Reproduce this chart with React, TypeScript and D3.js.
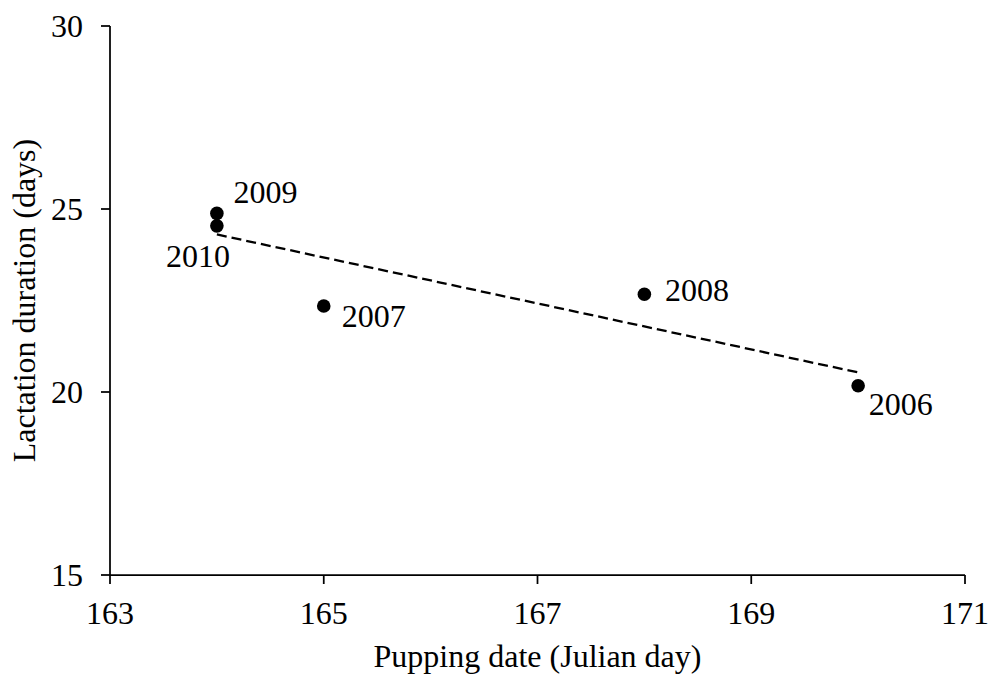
import React from "react";
import * as d3 from "d3";

// Pupping date (Julian day) vs. lactation duration (days), one point per year
const years = ["2006", "2007", "2008", "2009", "2010"];
const puppingDay = [170, 165, 168, 164, 164];
const lactationDays = [20.17, 22.35, 22.67, 24.88, 24.54];

const xTicks = [163, 165, 167, 169, 171];
const yTicks = [15, 20, 25, 30];

// Where each year label sits relative to its point
const labelOffsets: Record<string, { dx: number; dy: number; anchor: string }> = {
  "2006": { dx: 10.5, dy: 29, anchor: "start" },
  "2007": { dx: 18, dy: 21, anchor: "start" },
  "2008": { dx: 20.5, dy: 6.5, anchor: "start" },
  "2009": { dx: 16.5, dy: -10, anchor: "start" },
  "2010": { dx: 13, dy: 41, anchor: "end" },
};

const W = 994;
const H = 677;
const FONT = "'Liberation Serif', 'Times New Roman', serif";
const FS = 32;

export default function App() {
  const x = d3.scaleLinear().domain([163, 171]).range([110, 965]);
  const y = d3.scaleLinear().domain([15, 30]).range([575, 26]);

  // Least-squares trend line over the plotted points
  const n = puppingDay.length;
  const mx = d3.mean(puppingDay) as number;
  const my = d3.mean(lactationDays) as number;
  let sxy = 0;
  let sxx = 0;
  for (let i = 0; i < n; i++) {
    sxy += (puppingDay[i] - mx) * (lactationDays[i] - my);
    sxx += (puppingDay[i] - mx) ** 2;
  }
  const slope = sxy / sxx;
  const intercept = my - slope * mx;
  const x0 = d3.min(puppingDay) as number;
  const x1 = d3.max(puppingDay) as number;
  const trend = d3.line<number>()
    .x((d) => x(d))
    .y((d) => y(intercept + slope * d))([x0, x1]);

  const [xa, xb] = x.range();
  const [ya, yb] = y.range();

  return (
    <svg
      width={W}
      height={H}
      style={{ position: "absolute", left: 0, top: 0, background: "#fff" }}
      fontFamily={FONT}
    >
      <rect width={W} height={H} fill="#fff" />
      {/* axes */}
      <g stroke="#000" strokeWidth={1.75} fill="none">
        <line x1={xa} x2={xa} y1={ya} y2={yb} />
        <line x1={xa} x2={xb} y1={ya} y2={ya} />
        {yTicks.map((t) => (
          <line key={"yt" + t} x1={xa - 9} x2={xa} y1={y(t)} y2={y(t)} />
        ))}
        {xTicks.map((t) => (
          <line key={"xt" + t} x1={x(t)} x2={x(t)} y1={ya} y2={ya + 9} />
        ))}
      </g>
      <g fontSize={FS} fill="#000">
        {yTicks.map((t) => (
          <text key={"yl" + t} x={xa - 27} y={y(t)} dy="0.34em" textAnchor="end">
            {t}
          </text>
        ))}
        {xTicks.map((t) => (
          <text key={"xl" + t} x={x(t)} y={624} textAnchor="middle">
            {t}
          </text>
        ))}
        <text x={(xa + xb) / 2} y={667} textAnchor="middle">
          Pupping date (Julian day)
        </text>
        <text
          transform={`translate(35,${(ya + yb) / 2}) rotate(-90)`}
          textAnchor="middle"
        >
          Lactation duration (days)
        </text>
      </g>
      {/* trend */}
      <path d={trend ?? ""} stroke="#000" strokeWidth={2.3} strokeDasharray="10,5" fill="none" />
      {/* points and year labels */}
      <g>
        {years.map((yr, i) => {
          const px = x(puppingDay[i]);
          const py = y(lactationDays[i]);
          const o = labelOffsets[yr];
          return (
            <g key={yr}>
              <circle cx={px} cy={py} r={6.8} fill="#000" />
              <text
                x={px + o.dx}
                y={py + o.dy}
                textAnchor={o.anchor}
                fontSize={FS}
                fill="#000"
              >
                {yr}
              </text>
            </g>
          );
        })}
      </g>
    </svg>
  );
}
